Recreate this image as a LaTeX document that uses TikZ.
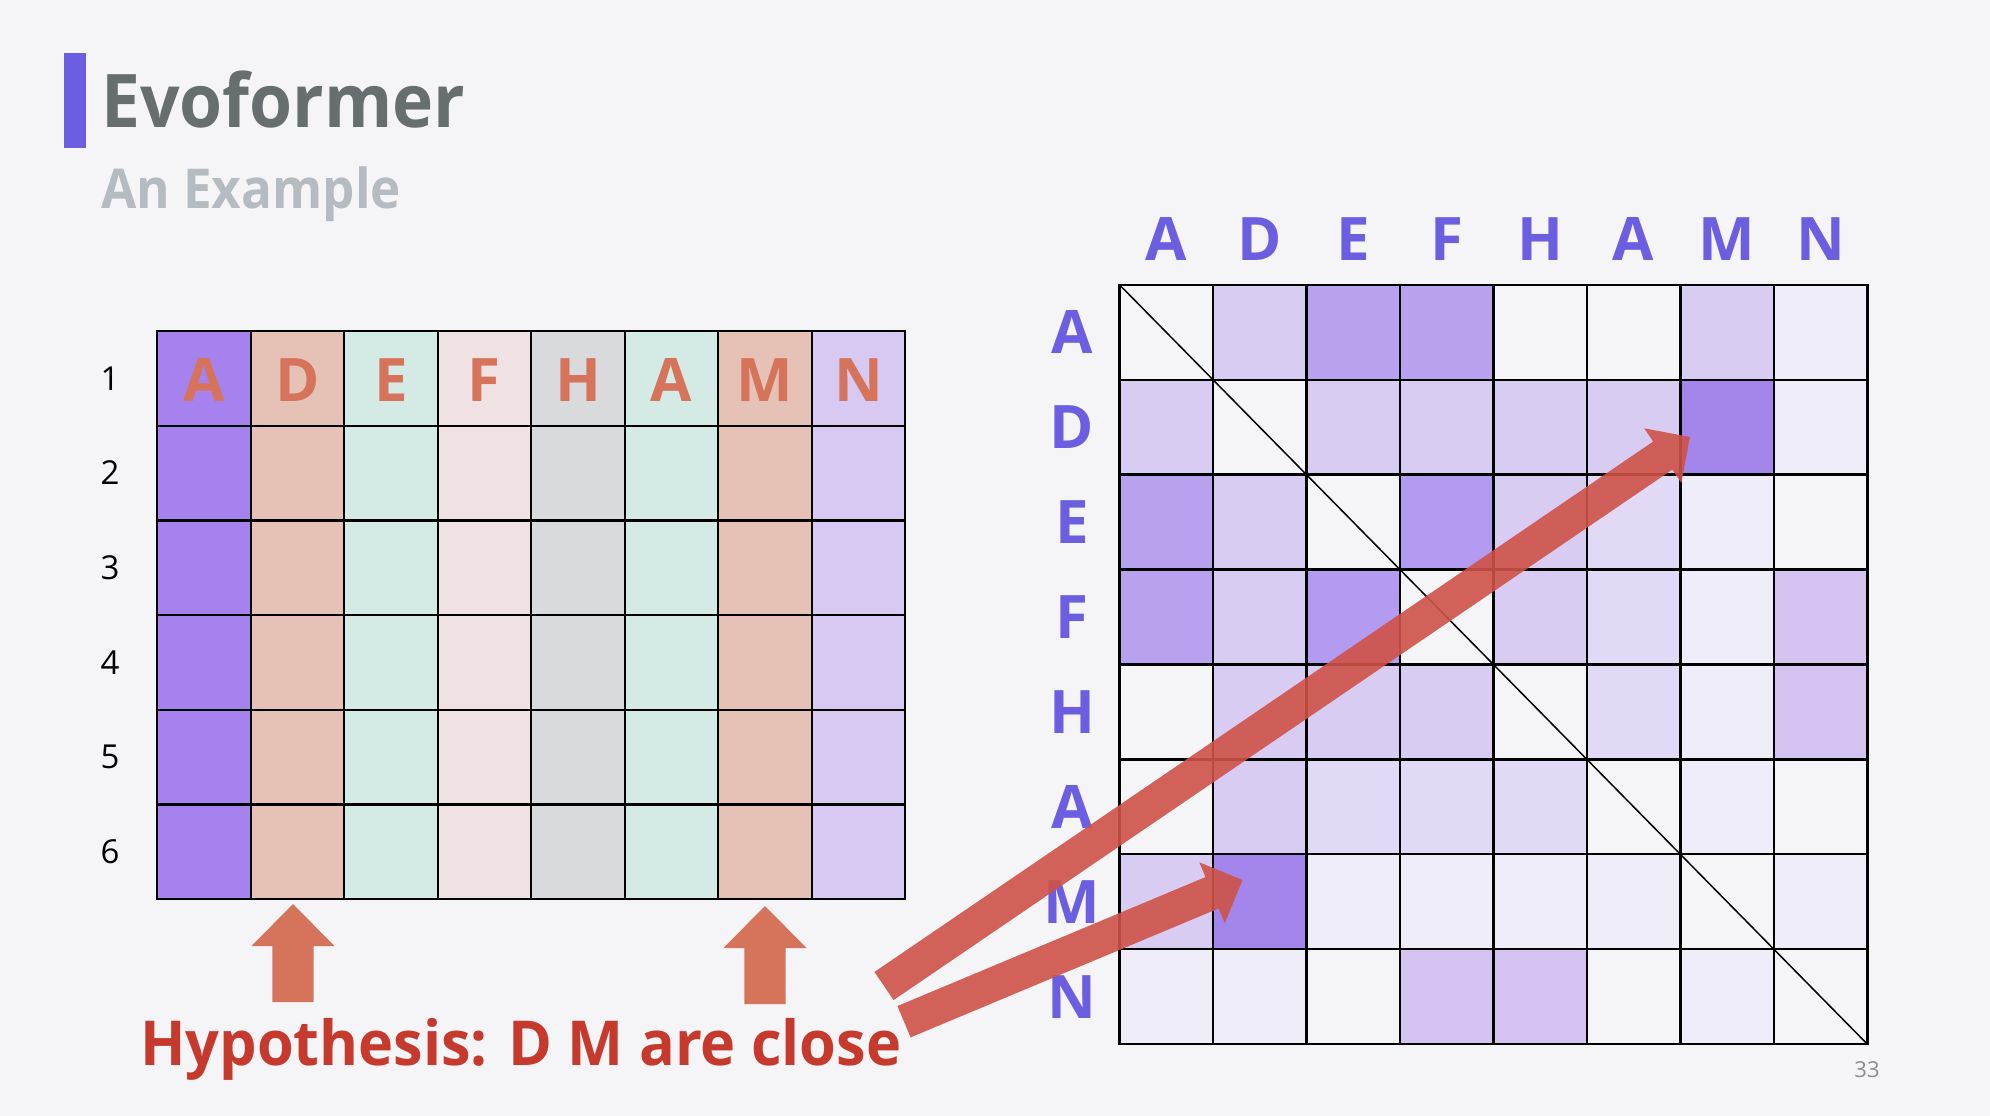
\documentclass[tikz,border=0pt]{standalone}
\usepackage{fontspec}
\usepackage{graphicx}
\setmainfont{Open Sans}
\usetikzlibrary{calc}
\definecolor{bg}{RGB}{245,245,247}
\definecolor{barc}{RGB}{108,94,224}
\definecolor{titlec}{RGB}{102,110,112}
\definecolor{subc}{RGB}{181,188,193}
\definecolor{orangec}{RGB}{213,116,90}
\definecolor{hypc}{RGB}{198,58,46}
\definecolor{redarr}{RGB}{207,82,72}
\definecolor{lA}{RGB}{166,130,238}
\definecolor{lD}{RGB}{230,193,182}
\definecolor{lE}{RGB}{212,234,228}
\definecolor{lF}{RGB}{240,226,226}
\definecolor{lH}{RGB}{217,218,220}
\definecolor{lN}{RGB}{216,201,242}
\definecolor{mw}{RGB}{245,245,247}
\definecolor{mL}{RGB}{216,204,243}
\definecolor{mM}{RGB}{184,162,239}
\definecolor{mMM}{RGB}{178,155,240}
\definecolor{mS}{RGB}{164,133,235}
\definecolor{mLM}{RGB}{212,195,241}
\definecolor{mLR}{RGB}{226,217,246}
\definecolor{mV}{RGB}{239,237,247}
\newcommand\redblock[2]{%
  \coordinate (#1#2b) at ($(#2)!33pt!(#1)$);
  \fill[redarrow] ($(#1)!17pt!90:(#2)$) -- ($(#1#2b)!17pt!90:(#2)$) -- ($(#1#2b)!33pt!90:(#2)$) -- (#2) -- ($(#1#2b)!33pt!-90:(#2)$) -- ($(#1#2b)!17pt!-90:(#2)$) -- ($(#1)!17pt!-90:(#2)$) -- cycle;
}
\begin{document}
\begin{tikzpicture}[x=1pt,y=-1pt,
  cellbox/.style={draw=black, line width=2.2pt, minimum width=93.5pt, inner sep=0pt, outer sep=0pt},
  lcell/.style={cellbox, minimum height=94.7pt},
  rcell/.style={cellbox, minimum height=94.94pt},
  hdr/.style={inner sep=0pt, anchor=base, text=barc, font=\bfseries\fontsize{60}{64}\selectfont},
  lletter/.style={inner sep=0pt, anchor=base, text=orangec, font=\bfseries\fontsize{60}{64}\selectfont},
  rownum/.style={inner sep=0pt, anchor=base, text=black, font=\fontsize{33}{36}\selectfont},
  uparrow/.style={fill=orangec},
  redarrow/.style={fill=redarr, fill opacity=0.9}]
\fill[bg] (0,0) rectangle (1990,1116);
\useasboundingbox (0,0) rectangle (1990,1116);
% title
\node[fill=barc, minimum width=22pt, minimum height=95pt, inner sep=0pt, anchor=north west] (bar) at (64,53) {};
\node[anchor=base west, inner sep=0pt, text=titlec, font=\bfseries\fontsize{74}{80}\selectfont] (title) at (101,128) {\scalebox{0.94}[1]{Evoformer}};
\node[anchor=base west, inner sep=0pt, text=subc, font=\bfseries\fontsize{55}{60}\selectfont] (sub) at (101,208) {\scalebox{0.93}[1]{An Example}};
% left grid
\foreach \r in {1,...,6}{
  \foreach \cc [count=\c] in {lA,lD,lE,lF,lH,lE,lD,lN}{
    \node[lcell, fill=\cc] (L-\r-\c) at ({157.2+(\c-0.5)*93.5},{331+(\r-0.5)*94.7}) {};
  }
  \node[rownum] (num-\r) at (110,{331+(\r-0.5)*94.7+11.8}) {\r};
}
\foreach \t [count=\c] in {A,D,E,F,H,A,M,N}{
  \node[lletter] (LT-\c) at ({157.2+(\c-0.5)*93.5},401.8) {\t};
}
% up arrows
\coordinate (ua1) at (293,904);
\coordinate (ua2) at (765,906);
\foreach \u in {ua1,ua2}{
  \fill[uparrow] (\u) -- ++(41.5,42) -- ++(-20.8,0) -- ++(0,56) -- ++(-41.4,0) -- ++(0,-56) -- ++(-20.8,0) -- cycle;
}
% right grid
\foreach \r/\row in {1/{w,L,M,M,w,w,L,V},2/{L,w,L,L,L,L,S,V},3/{M,L,w,MM,L,LR,V,w},4/{M,L,MM,w,L,LR,V,LM},5/{w,L,L,L,w,LR,V,LM},6/{w,L,LR,LR,LR,w,V,w},7/{L,S,V,V,V,V,w,V},8/{V,V,w,LM,LM,w,V,w}}{
  \foreach \cc [count=\c] in \row {
    \node[rcell, fill=m\cc] (R-\r-\c) at ({1119.4+(\c-0.5)*93.5},{284.7+(\r-0.5)*94.94}) {};
  }
}
\draw[line width=1.5pt] (R-1-1.north west) -- (R-8-8.south east);
\foreach \t [count=\c] in {A,D,E,F,H,A,M,N}{
  \node[hdr] (RC-\c) at ({1119.4+(\c-0.5)*93.5},260) {\t};
  \node[hdr] (RR-\c) at (1072,{284.7+(\c-0.5)*94.94+21.5}) {\t};
}
% hypothesis
\node[anchor=base west, inner sep=0pt, text=hypc, font=\bfseries\fontsize{62}{66}\selectfont] (hyp) at (140,1065.7) {\scalebox{0.958}[1]{Hypothesis: D M are close}};
% red arrows
\coordinate (a1s) at (884,986);
\coordinate (a1e) at (1690,437);
\coordinate (a2s) at (904,1021.7);
\coordinate (a2e) at (1242.5,880);
\redblock{a1s}{a1e}
\redblock{a2s}{a2e}
% page number
\node[anchor=base, inner sep=0pt, text=black!45, font=\fontsize{22}{24}\selectfont] (page) at (1867,1077) {33};
\end{tikzpicture}
\end{document}
